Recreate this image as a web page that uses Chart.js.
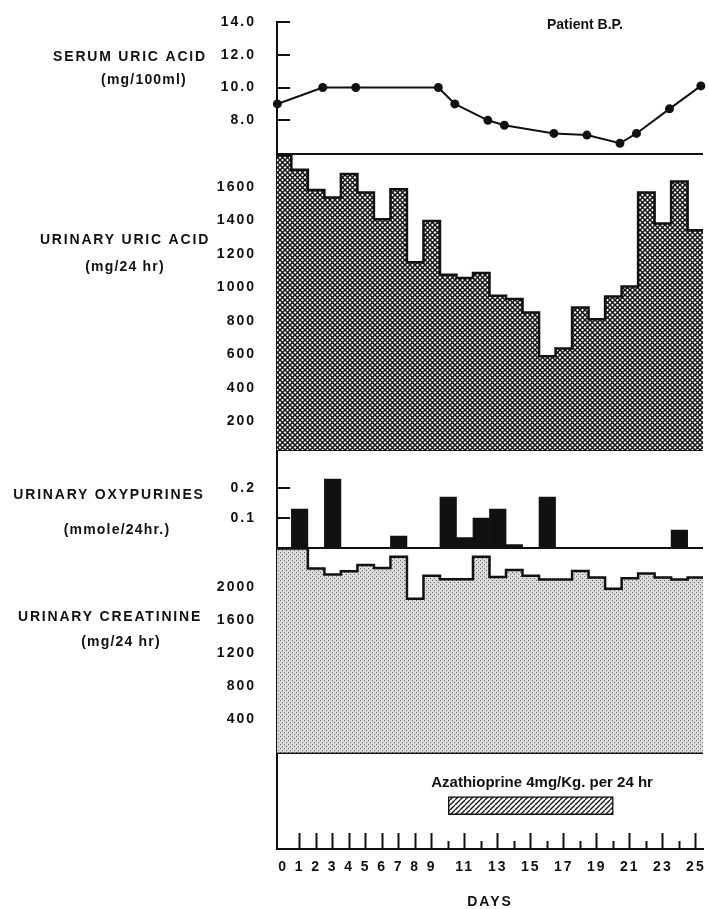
<!DOCTYPE html>
<html>
<head>
<meta charset="utf-8">
<title>Patient B.P.</title>
<script src="https://cdn.jsdelivr.net/npm/chart.js"></script>
<style>
  body { margin: 0; background: #fff; }
  canvas { display: block; }
</style>
</head>
<body>
<canvas id="chart" width="709" height="909"></canvas>
<script>
// ---- data ----
const days = [0, 1, 2, 3, 4, 5, 6, 7, 8, 9, 10, 11, 12, 13, 14, 15, 16, 17, 18, 19, 20, 21, 22, 23, 24, 25];
const labelledDays = [0, 1, 2, 3, 4, 5, 6, 7, 8, 9, 11, 13, 15, 17, 19, 21, 23, 25];
const longTickDays = [1, 2, 3, 4, 5, 6, 7, 8, 9, 11, 13, 15, 17, 19, 21, 23, 25];
const shortTickDays = [10, 12, 14, 16, 18, 20, 22, 24];

const serumDays = [-0.35, 2.4, 4.4, 9.4, 10.4, 12.4, 13.4, 16.4, 18.4, 20.4, 21.4, 23.4, 25.3];
const serumUricAcid = [9.0, 10.0, 10.0, 10.0, 9.0, 8.0, 7.7, 7.2, 7.1, 6.6, 7.2, 8.7, 10.1];

const urinaryUricAcid = [1785, 1700, 1580, 1535, 1675, 1565, 1405, 1585, 1150, 1395, 1075, 1055, 1085,
  950, 930, 850, 590, 635, 880, 810, 945, 1005, 1565, 1380, 1630, 1340];

const oxyDays = [1, 3, 7, 10, 11, 12, 13, 14, 16, 24];
const oxypurines = [0.13, 0.23, 0.04, 0.17, 0.035, 0.10, 0.13, 0.012, 0.17, 0.06];

const creatinine = [2465, 2465, 2225, 2150, 2190, 2265, 2230, 2365, 1860, 2135, 2095, 2095, 2365,
  2120, 2205, 2135, 2090, 2090, 2195, 2115, 1980, 2105, 2165, 2115, 2090, 2115];

const drugSpan = [10, 20];
const drugLabel = 'Azathioprine 4mg/Kg. per 24 hr';

const serumTicks = [8, 10, 12, 14];
const uricTicks = [200, 400, 600, 800, 1000, 1200, 1400, 1600];
const oxyTicks = [0.1, 0.2];
const creatTicks = [400, 800, 1200, 1600, 2000];

// ---- styles ----
const ink = '#111';
const tickFont = { family: 'Liberation Sans', size: 14, weight: 'bold' };
Chart.defaults.font.family = 'Liberation Sans';
Chart.defaults.color = ink;

const canvas = document.getElementById('chart');

function makePattern(size, draw) {
  const c = document.createElement('canvas');
  c.width = c.height = size;
  draw(c.getContext('2d'), size);
  return canvas.getContext('2d').createPattern(c, 'repeat');
}

const crossHatch = makePattern(5, (g, s) => {
  g.fillStyle = '#fff'; g.fillRect(0, 0, s, s);
  g.strokeStyle = ink; g.lineWidth = 1.5;
  for (const k of [-s, 0, s]) {
    g.beginPath();
    g.moveTo(k, 0); g.lineTo(k + s, s);
    g.moveTo(k, s); g.lineTo(k + s, 0);
    g.stroke();
  }
});

const stipple = makePattern(4, (g, s) => {
  g.fillStyle = '#dadada'; g.fillRect(0, 0, s, s);
  g.fillStyle = '#666';
  g.fillRect(0, 0, 1, 1); g.fillRect(2, 2, 1, 1);
});

const hatch = makePattern(5, (g, s) => {
  g.fillStyle = '#fff'; g.fillRect(0, 0, s, s);
  g.strokeStyle = ink; g.lineWidth = 1.3;
  for (const k of [-s, 0, s]) {
    g.beginPath(); g.moveTo(k, s); g.lineTo(k + s, 0); g.stroke();
  }
});

// a daily value covers the whole day, so pad the step line half a day each side
function stepPoints(vals) {
  const pts = days.map((d, i) => ({ x: d, y: vals[i] }));
  pts.unshift({ x: days[0] - 0.5, y: vals[0] });
  pts.push({ x: days[days.length - 1] + 0.5, y: vals[vals.length - 1] });
  return pts;
}

// no extra room for overhanging labels: the frame is fixed
function noPadding(s) {
  s.paddingTop = s.paddingBottom = s.paddingLeft = s.paddingRight = 0;
}

function panelAxis(min, max, ticks, fmt, weight, stackWeight) {
  return {
    type: 'linear', position: 'left', stack: 'panels', stackWeight: stackWeight, weight: weight,
    min: min, max: max, offset: false, z: 1,
    afterBuildTicks: s => { s.ticks = [min].concat(ticks).map(v => ({ value: v })); },
    afterFit: s => { s.width = 277; noPadding(s); },
    ticks: { autoSkip: false, padding: 34, font: tickFont, color: ink, callback: v => v === min ? '' : fmt(v) },
    grid: {
      tickLength: -13, lineWidth: 2, tickWidth: 2,
      color: c => c.tick && c.tick.value === min ? ink : 'rgba(0,0,0,0)',
      tickColor: c => c.tick && c.tick.value === min ? 'rgba(0,0,0,0)' : ink
    },
    border: { color: ink, width: 2 }
  };
}

const panelTitles = [
  { text: 'SERUM URIC ACID', x: 130, y: 57, caps: true },
  { text: '(mg/100ml)', x: 144, y: 80 },
  { text: 'URINARY URIC ACID', x: 125, y: 240, caps: true },
  { text: '(mg/24 hr)', x: 125, y: 267 },
  { text: 'URINARY OXYPURINES', x: 109, y: 495, caps: true },
  { text: '(mmole/24hr.)', x: 117, y: 530 },
  { text: 'URINARY CREATININE', x: 110, y: 617, caps: true },
  { text: '(mg/24 hr)', x: 121, y: 642 }
];

const textPlugin = {
  id: 'figureText',
  beforeDraw(chart) { chart.ctx.letterSpacing = '2px'; },
  afterDraw(chart) {
    const ctx = chart.ctx;
    ctx.save();
    ctx.fillStyle = ink;
    ctx.textBaseline = 'middle';
    ctx.textAlign = 'center';
    panelTitles.forEach(t => {
      ctx.font = 'bold 14px "Liberation Sans"';
      ctx.letterSpacing = t.caps ? '1.8px' : '1.2px';
      ctx.fillText(t.text, t.x, t.y);
    });
    ctx.letterSpacing = '0px';
    ctx.textAlign = 'left';
    ctx.font = 'bold 14px "Liberation Sans"';
    ctx.fillText('Patient B.P.', 547, 25);
    const bar = chart.getDatasetMeta(4).data[0];
    if (bar) {
      ctx.font = 'bold 15px "Liberation Sans"';
      ctx.fillText(drugLabel, Math.min(bar.x, bar.base) - 17, bar.y - 23);
    }
    ctx.restore();
  }
};

new Chart(canvas, {
  type: 'line',
  data: {
    datasets: [
      {
        label: 'Serum uric acid', xAxisID: 'x', yAxisID: 'yS',
        data: serumDays.map((d, i) => ({ x: d, y: serumUricAcid[i] })),
        borderColor: ink, borderWidth: 2, tension: 0,
        pointRadius: 3.5, pointBackgroundColor: ink, pointBorderColor: ink, clip: false
      },
      {
        label: 'Urinary uric acid', xAxisID: 'x', yAxisID: 'yU',
        data: stepPoints(urinaryUricAcid), stepped: 'middle',
        borderColor: ink, borderWidth: 2.5, pointRadius: 0,
        backgroundColor: crossHatch, fill: 'start'
      },
      {
        type: 'bar', label: 'Urinary oxypurines', xAxisID: 'x', yAxisID: 'yO',
        data: oxyDays.map((d, i) => ({ x: d, y: oxypurines[i] })),
        backgroundColor: ink, borderWidth: 0,
        barPercentage: 1, categoryPercentage: 1, grouped: false
      },
      {
        label: 'Urinary creatinine', xAxisID: 'x', yAxisID: 'yC',
        data: stepPoints(creatinine), stepped: 'middle',
        borderColor: ink, borderWidth: 2.5, pointRadius: 0,
        backgroundColor: stipple, fill: 'start'
      },
      {
        type: 'bar', label: drugLabel, indexAxis: 'y', xAxisID: 'x', yAxisID: 'yDrug',
        data: [{ x: drugSpan, y: 0.45 }],
        backgroundColor: hatch, borderColor: ink, borderWidth: 1.5, borderSkipped: false,
        barThickness: 18, grouped: false
      }
    ]
  },
  options: {
    responsive: false,
    animation: false,
    devicePixelRatio: 1,
    layout: { padding: { top: 22, right: -2, bottom: 0, left: 0 } },
    plugins: { legend: { display: false }, tooltip: { enabled: false } },
    scales: {
      x: {
        type: 'linear', position: 'bottom', min: -0.37, max: 25.43, offset: false,
        afterBuildTicks: s => { s.ticks = days.map(v => ({ value: v })); },
        afterFit: s => { s.height = 60; noPadding(s); },
        ticks: {
          autoSkip: false, maxRotation: 0, padding: 26, font: tickFont, color: ink,
          callback: v => labelledDays.includes(v) ? String(v) : ''
        },
        grid: {
          offset: false, drawOnChartArea: false, tickLength: -16, tickWidth: 2,
          tickColor: c => c.tick && longTickDays.includes(c.tick.value) ? ink : 'rgba(0,0,0,0)'
        },
        border: { color: ink, width: 2 },
        title: {
          display: true, text: 'DAYS', color: ink, padding: { top: 0, bottom: 0 },
          font: { family: 'Liberation Sans', size: 14, weight: 'bold', lineHeight: 1 }
        }
      },
      x2: {
        type: 'linear', axis: 'x', position: { yDrug: 0 }, min: -0.37, max: 25.43, offset: false,
        afterBuildTicks: s => { s.ticks = shortTickDays.map(v => ({ value: v })); },
        afterFit: noPadding,
        ticks: { display: false },
        grid: { drawOnChartArea: false, tickLength: -8, tickWidth: 2, tickColor: ink },
        border: { display: false }
      },
      yS: panelAxis(5.93, 14, serumTicks, v => v.toFixed(1), 5, 132.3),
      yU: panelAxis(30, 1793, uricTicks, v => String(v), 4, 296),
      yO: panelAxis(0, 0.327, oxyTicks, v => v.toFixed(1), 3, 98),
      yC: panelAxis(0, 2470, creatTicks, v => String(v), 2, 204.7),
      yDrug: {
        type: 'linear', position: 'left', stack: 'panels', stackWeight: 96.3, weight: 1,
        min: 0, max: 1, offset: false,
        afterBuildTicks: s => { s.ticks = []; },
        afterFit: s => { s.width = 277; noPadding(s); },
        ticks: { display: false },
        grid: { display: false, offset: false },
        border: { color: ink, width: 2 }
      }
    }
  },
  plugins: [textPlugin]
});
</script>
</body>
</html>
